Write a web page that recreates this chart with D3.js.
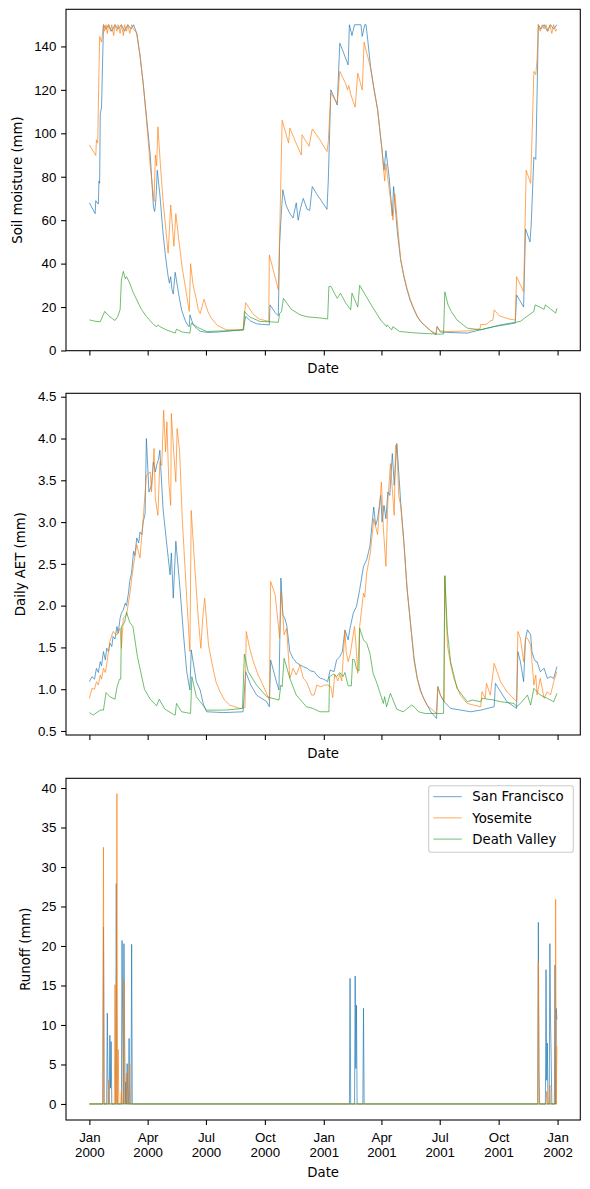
<!DOCTYPE html>
<html>
<head>
<meta charset="utf-8">
<script src="https://cdn.jsdelivr.net/npm/d3@7"></script>
<style>
  body { margin: 0; background: #fff; }
  svg { display: block; font-family: "DejaVu Sans", sans-serif; }
  .axis text { font-size: 13.3px; fill: #000; }
  .axis line { stroke: #000; stroke-width: 1.07; }
  .axis .domain { display: none; }
  .frame { fill: none; stroke: #000; stroke-width: 1.07; }
  .series { fill: none; stroke-width: 0.8; stroke-opacity: 0.85; stroke-linejoin: round; }
  .label { font-size: 13.3px; fill: #000; }
  .legend-box { fill: #fff; fill-opacity: 0.8; stroke: #cccccc; stroke-width: 1.07; }
</style>
</head>
<body>
<svg id="chart" width="590" height="1189"></svg>
<script>
// Record starts 2000-01-01, values are [day of record, value]
var START = Date.UTC(2000, 0, 1);
var LAST_DAY = 730;

var names = ["San Francisco", "Yosemite", "Death Valley"];
var colors = ["#1f77b4", "#ff7f0e", "#2ca02c"];

var soilTicks = [0, 20, 40, 60, 80, 100, 120, 140];
var aetTicks = [0.5, 1.0, 1.5, 2.0, 2.5, 3.0, 3.5, 4.0, 4.5];
var runoffTicks = [0, 5, 10, 15, 20, 25, 30, 35, 40];

// Soil moisture (mm)
var soilSF = [[0,68],[9,63],[10,69],[12,68],[14,67.5],[15,78],[16,77],[17,109],[19,112],[22,150],[26,148],[30,150],[35,147],[40,150],[45,148],[50,150],[55,147],[60,150],[65,148],[69,150],[74,146],[79,136],[84,123],[89,108],[95,90],[100,66],[102,64],[104,70],[106,83],[110,72],[115,54],[119,43],[123,34],[125,31],[127,34],[129,28],[131,26],[134,36],[140,25],[144,18.7],[150,13.5],[154,11.4],[156,11],[157,16.4],[162,12],[167,10.3],[173,8.8],[185,8.3],[200,8.5],[220,9],[240,9.5],[244,15.7],[252,13.5],[261,12.3],[270,12],[281,11.8],[282,21],[290,17.5],[295,16],[297,49],[299,60],[302,74],[307,67],[313,63],[318,61],[323,68],[326,60],[330,66],[334,70],[340,65],[344,64.5],[348,75.5],[355,72],[362,69],[371,65],[373,78],[377,120],[380,118],[387,113],[391,141.5],[397,137],[404,131.5],[406,150],[410,145],[414,150],[424,150],[426,144.6],[430,150],[432,150],[435,142],[439,130.8],[444,121],[450,111],[457,92],[460,83],[463,92],[468,80],[473,62],[475,75.5],[481,54],[486,41.8],[491,34],[496,28],[501,23],[507,18.7],[512,15.5],[517,13.4],[523,11.6],[528,10.3],[533,9],[538,8],[541,7.2],[543,11],[548,8.5],[560,8.3],[590,8],[610,9.5],[632,11],[665,12.6],[667,25.6],[678,20],[681,56],[688,50],[690,59],[694,89],[697,88],[699,118],[701,150],[705,148],[710,150],[715,147],[720,150],[725,148],[730,150]];
var soilYO = [[0,94.7],[10,89.8],[11,97],[13,95.5],[16,144.6],[19,142],[22,150],[24,147],[26,150],[28,146],[30,150],[33,147],[35,150],[38,145],[40,150],[43,147],[45,150],[48,146],[50,150],[53,145],[55,150],[58,147],[60,150],[63,146],[66,150],[69,148],[74,146],[79,136],[84,123],[89,107],[95,85],[101,68.6],[103,90],[105,85],[107,103],[111,85],[115,69],[123,44.8],[127,67],[132,48],[135,63],[140,50],[145,38],[150,29],[156,18],[158,40],[162,30],[166,25],[170,19],[173,17],[179,23.6],[185,18],[190,15],[200,11.5],[214,9.5],[240,9.5],[244,22],[255,17],[265,14.5],[280,13.4],[281,44],[295,28],[297,52.5],[301,106],[311,95.5],[313,102.4],[322,96],[331,90],[332,99.3],[343,94],[348,102],[360,97],[371,91.6],[373,96],[377,118.5],[387,114],[391,128.5],[400,123],[403,120],[405,122],[408,118],[415,112],[419,127.7],[426,120],[429,142],[432,138],[435,135],[439,130],[444,121],[450,111],[457,92],[461,78],[463,86],[470,70],[474,60],[477,72],[483,52],[486,42],[491,34.5],[496,28.5],[501,23.5],[507,19],[512,15.8],[517,13.6],[523,11.7],[528,10.4],[533,9.1],[538,8.2],[541,7.5],[543,11],[548,9],[560,8.7],[590,9],[610,10],[611,12],[620,12],[625,13.5],[630,14],[632,18.7],[640,16],[655,14.5],[665,14],[667,34],[678,27],[682,83],[689,77],[691,97],[694,128.5],[697,127],[699,134],[701,150],[704,147],[707,150],[710,148],[713,150],[716,147],[719,150],[722,146],[725,150],[728,147],[730,148]];
var soilDV = [[0,14.1],[10,13.4],[17,13.2],[24,18],[30,16],[40,13.8],[44,15.5],[48,18.7],[50,32.5],[53,36.4],[56,33],[58,34],[63,31],[68,27],[74,23.3],[81,19],[89,15.7],[100,12],[105,11],[107,11.8],[110,11],[120,9.5],[134,8],[136,9.8],[145,8.5],[157,8],[159,12.6],[170,10.5],[183,8.75],[210,9],[241,9.5],[242,18],[250,15.5],[266,13.4],[295,13],[297,17],[300,18],[303,24],[315,19],[329,16.4],[340,15.5],[348,15.3],[360,15],[372,14.5],[374,29.5],[377,29.5],[387,24],[392,26.4],[400,22],[408,18.7],[410,26.4],[419,20],[422,30],[432,25],[442,20],[455,14],[464,11],[465,11.8],[472,9.5],[474,11],[484,8.75],[512,8],[548,7.5],[553,7.6],[555,27],[560,21],[565,18],[574,14],[590,10.3],[611,9.5],[642,11.8],[673,13.4],[680,15],[694,18],[696,21],[710,19],[712,21],[728,17.2],[730,19.5]];

// Daily AET (mm)
var aetSF = [[0,1.09],[4,1.15],[8,1.12],[11,1.25],[14,1.2],[17,1.33],[19,1.28],[22,1.45],[25,1.35],[27,1.49],[30,1.45],[32,1.55],[35,1.51],[37,1.63],[40,1.6],[43,1.75],[45,1.67],[48,1.85],[50,1.91],[53,1.95],[56,2.03],[58,2.0],[61,2.15],[63,2.29],[66,2.4],[69,2.65],[71,2.6],[74,2.81],[77,2.75],[79,2.88],[82,2.85],[84,3.0],[87,3.1],[89,4.0],[93,3.36],[97,3.44],[100,3.72],[103,3.6],[105,3.68],[108,3.75],[110,3.86],[115,3.16],[121,2.72],[126,2.37],[128,2.63],[131,2.09],[135,2.77],[141,2.25],[147,1.65],[152,1.21],[157,0.99],[159,1.47],[167,1.09],[173,0.99],[178,0.82],[183,0.73],[210,0.72],[240,0.73],[244,1.21],[252,1.05],[261,0.93],[277,0.85],[281,0.79],[283,1.35],[292,1.09],[296,0.99],[299,2.33],[302,1.89],[305,1.85],[308,1.77],[313,1.45],[318,1.37],[323,1.32],[329,1.29],[334,1.27],[340,1.25],[345,1.22],[351,1.21],[356,1.16],[361,1.13],[366,1.12],[372,1.09],[376,1.23],[382,1.21],[386,1.35],[391,1.39],[395,1.45],[399,1.71],[404,1.59],[407,1.73],[412,1.91],[417,1.99],[422,2.19],[428,2.47],[433,2.55],[438,2.71],[444,3.18],[447,2.96],[450,3.04],[455,3.32],[457,3.0],[460,3.2],[463,3.04],[466,3.36],[469,3.32],[473,3.82],[476,3.44],[480,3.94],[482,3.72],[486,3.24],[491,2.77],[496,2.21],[502,1.73],[507,1.37],[512,1.13],[517,0.99],[522,0.89],[533,0.73],[542,0.65],[544,1.03],[548,0.93],[554,0.85],[564,0.77],[580,0.75],[595,0.73],[611,0.75],[632,0.79],[634,1.07],[642,0.97],[652,0.85],[667,0.77],[669,1.45],[673,1.33],[678,1.09],[681,1.61],[684,1.71],[689,1.65],[691,1.45],[694,1.37],[697,1.33],[699,1.33],[704,1.21],[710,1.25],[715,1.13],[720,1.15],[725,1.13],[730,1.27]];
var aetYO = [[0,0.89],[4,1.01],[8,1.0],[11,1.09],[14,1.05],[17,1.17],[19,1.12],[22,1.25],[25,1.2],[27,1.29],[32,1.57],[37,1.69],[43,1.65],[48,1.73],[50,1.49],[53,1.85],[58,1.89],[63,2.13],[69,2.49],[74,2.73],[79,2.57],[84,3.04],[89,3.56],[95,3.6],[97,3.36],[101,3.88],[103,3.28],[107,3.08],[110,3.72],[113,3.68],[116,4.34],[119,3.84],[121,4.2],[124,3.48],[127,3.2],[128,4.3],[132,3.8],[135,3.48],[137,4.12],[141,3.84],[145,3.04],[152,2.09],[157,1.45],[159,3.14],[165,2.41],[170,1.85],[174,1.49],[177,1.85],[180,2.09],[186,1.53],[193,1.25],[198,1.08],[204,0.97],[211,0.87],[219,0.81],[235,0.77],[243,0.78],[245,1.69],[250,1.5],[256,1.33],[263,1.18],[271,1.05],[281,0.87],[283,2.29],[290,2.13],[295,1.77],[297,1.61],[300,2.17],[304,1.65],[308,1.73],[313,1.13],[318,1.25],[323,1.17],[329,1.29],[334,1.13],[339,1.09],[347,0.93],[351,0.93],[355,1.05],[361,1.03],[368,1.05],[372,1.05],[377,1.03],[380,0.9],[383,1.18],[388,1.1],[391,1.18],[394,1.1],[399,1.69],[401,1.45],[404,1.33],[407,1.41],[414,1.75],[417,1.45],[419,1.19],[422,1.75],[428,2.15],[430,2.1],[433,2.39],[439,2.65],[444,3.04],[450,2.85],[452,3.08],[456,3.48],[459,2.93],[463,2.47],[466,3.24],[470,3.7],[476,3.08],[478,3.92],[480,3.92],[483,3.32],[486,3.2],[491,2.75],[496,2.2],[502,1.75],[507,1.33],[512,1.12],[517,0.97],[527,0.81],[542,0.71],[544,1.03],[548,0.93],[554,0.85],[555,2.35],[559,1.53],[564,1.3],[569,1.13],[579,0.93],[590,0.83],[600,0.81],[611,0.79],[613,0.97],[618,0.89],[620,1.07],[626,0.93],[632,1.31],[642,1.09],[652,0.97],[667,0.85],[669,1.69],[673,1.61],[678,1.33],[681,1.61],[684,1.61],[689,1.53],[694,1.05],[697,1.17],[699,0.93],[704,1.13],[710,0.89],[715,0.97],[720,0.93],[725,1.09],[730,1.21]];
var aetDV = [[0,0.72],[6,0.69],[17,0.75],[22,0.75],[26,0.96],[32,0.91],[40,0.88],[43,1.02],[47,1.12],[49,1.12],[50,1.75],[55,1.8],[58,1.92],[63,1.8],[68,1.75],[75,1.39],[86,1.0],[95,0.88],[105,0.8],[109,0.88],[118,0.76],[131,0.7],[134,0.69],[136,0.83],[144,0.73],[158,0.71],[160,1.15],[167,0.91],[173,0.85],[183,0.75],[213,0.75],[239,0.77],[242,1.42],[248,1.21],[261,1.05],[277,0.91],[296,0.87],[299,1.05],[301,1.03],[304,1.37],[313,1.13],[323,0.93],[339,0.79],[349,0.77],[360,0.73],[374,0.73],[375,1.15],[381,1.18],[386,1.15],[391,1.2],[396,1.15],[399,1.2],[404,1.04],[409,1.04],[411,1.36],[414,1.35],[417,1.24],[421,1.22],[422,1.73],[428,1.59],[433,1.55],[438,1.43],[443,1.19],[449,1.07],[454,0.95],[459,0.83],[461,0.91],[464,0.79],[470,0.95],[480,0.76],[490,0.73],[503,0.81],[507,0.79],[514,0.73],[524,0.71],[553,0.71],[555,2.36],[559,1.69],[564,1.33],[574,1.01],[590,0.85],[598,0.87],[611,0.85],[613,0.89],[632,0.87],[642,0.85],[663,0.83],[667,0.79],[673,0.83],[684,0.93],[689,0.81],[694,1.01],[704,0.93],[715,0.89],[725,0.85],[730,0.95]];

// Runoff (mm)
var runSF = [[0,0],[21,0],[22,22.4],[23,0],[27,0],[28,11.5],[29,3],[30,0],[31,0],[32,8.7],[33,2],[34,7.9],[35,0],[41,0],[42,27.9],[43,0],[50,0],[51,20.7],[52,10.5],[53,0],[54,20.3],[55,8.7],[56,0],[57,2.8],[58,0],[59,5.1],[60,0],[61,0],[62,8.3],[63,0],[65,0],[66,20.2],[67,0],[406,0],[407,15.9],[408,0],[414,0],[415,16.2],[416,4.5],[417,12.5],[418,0],[427,0],[428,12.1],[429,0],[700,0],[701,23],[702,4.1],[703,0],[712,0],[713,17],[714,3],[715,7.7],[716,0],[718,0],[719,20.3],[720,10.6],[721,6],[722,0],[726,0],[727,17.6],[728,0],[729,12.1],[730,10.7]];
var runYO = [[0,0],[21,0],[22,32.5],[23,0],[29,0],[30,3],[31,0],[39,0],[40,15.1],[41,0],[42,0],[43,39.3],[44,0],[45,6.9],[46,0],[49,0],[50,1.6],[51,0],[53,0],[54,15.7],[55,0],[57,0],[58,3.9],[59,0],[62,0],[63,5.1],[64,0],[700,0],[701,18],[702,0],[713,0],[714,1.6],[715,0],[718,0],[719,2.4],[720,0],[727,0],[728,25.9],[729,0],[730,7.3]];
var runDV = [[0,0],[730,0]];

var panels = [
  { top: 9.3, bottom: 350.7, domain: [-0.1, 157.1], ticks: soilTicks, fmt: d3.format("d"),
    label: "Soil moisture (mm)", labelX: 22, dateY: 372.8, series: [soilSF, soilYO, soilDV] },
  { top: 393.3, bottom: 735, domain: [0.452, 4.541], ticks: aetTicks, fmt: d3.format(".1f"),
    label: "Daily AET (mm)", labelX: 24.8, dateY: 758, series: [aetSF, aetYO, aetDV] },
  { top: 778.3, bottom: 1120, domain: [-2.03, 41.23], ticks: runoffTicks, fmt: d3.format("d"),
    label: "Runoff (mm)", labelX: 29.5, dateY: 1176.5, series: [runSF, runYO, runDV], last: true },
];

var left = 66;
var right = 580.3;
var tickLen = 4.9;
var tickPad = 4.7;

var toDate = day => new Date(START + day * 864e5);

// matplotlib style 5% margin on the time axis
var pad = LAST_DAY * 0.05;
var xScale = d3.scaleUtc()
  .domain([toDate(-pad), toDate(LAST_DAY + pad)])
  .range([left, right]);

var fmtMonth = d3.utcFormat("%b");
var fmtYear = d3.utcFormat("%Y");

var svg = d3.select("#chart");
svg.append("rect").attr("width", 590).attr("height", 1189).attr("fill", "#fff");

panels.forEach(function (p, i) {
  var yScale = d3.scaleLinear().domain(p.domain).range([p.bottom, p.top]);

  var clipId = "clip" + i;
  svg.append("clipPath").attr("id", clipId)
    .append("rect")
    .attr("x", left).attr("y", p.top)
    .attr("width", right - left).attr("height", p.bottom - p.top);

  var line = d3.line()
    .x(d => xScale(toDate(d[0])))
    .y(d => yScale(d[1]));

  svg.append("g")
    .attr("clip-path", "url(#" + clipId + ")")
    .selectAll("path")
    .data(p.series)
    .enter()
    .append("path")
    .attr("class", "series")
    .attr("stroke", (d, j) => colors[j])
    .attr("d", line);

  // frame
  svg.append("rect")
    .attr("class", "frame")
    .attr("x", left).attr("y", p.top)
    .attr("width", right - left).attr("height", p.bottom - p.top);

  var yAxis = d3.axisLeft(yScale)
    .tickValues(p.ticks)
    .tickFormat(p.fmt)
    .tickSize(tickLen)
    .tickPadding(tickPad);

  svg.append("g")
    .attr("class", "y axis")
    .attr("transform", `translate(${left},0)`)
    .call(yAxis);

  var xAxis = d3.axisBottom(xScale)
    .ticks(d3.utcMonth.every(3))
    .tickSize(tickLen)
    .tickFormat("");

  var xg = svg.append("g")
    .attr("class", "x axis")
    .attr("transform", `translate(0,${p.bottom})`)
    .call(xAxis);

  if (p.last) {
    xg.selectAll(".tick text")
      .attr("dy", null)
      .each(function (d) {
        var t = d3.select(this);
        t.append("tspan").attr("x", 0).attr("y", 21.5).text(fmtMonth(d));
        t.append("tspan").attr("x", 0).attr("y", 36.5).text(fmtYear(d));
      });
  }

  svg.append("text")
    .attr("class", "label")
    .attr("x", (left + right) / 2)
    .attr("y", p.dateY)
    .attr("text-anchor", "middle")
    .text("Date");

  svg.append("text")
    .attr("class", "label")
    .attr("transform", `translate(${p.labelX},${(p.top + p.bottom) / 2}) rotate(-90)`)
    .attr("text-anchor", "middle")
    .text(p.label);
});

// Legend in the runoff panel
var legend = svg.append("g").attr("class", "legend");
legend.append("rect")
  .attr("class", "legend-box")
  .attr("x", 428.7).attr("y", 785.7)
  .attr("width", 144.6).attr("height", 66.6)
  .attr("rx", 2.5);

var rows = legend.selectAll("g.row")
  .data(names)
  .enter()
  .append("g")
  .attr("class", "row")
  .attr("transform", (d, i) => `translate(0,${796.7 + i * 21.2})`);

rows.append("line")
  .attr("class", "series")
  .attr("x1", 433.3).attr("x2", 461.7)
  .attr("stroke", (d, i) => colors[i]);

rows.append("text")
  .attr("class", "label")
  .attr("x", 472.3)
  .attr("dy", "0.36em")
  .text(d => d);
</script>
</body>
</html>
